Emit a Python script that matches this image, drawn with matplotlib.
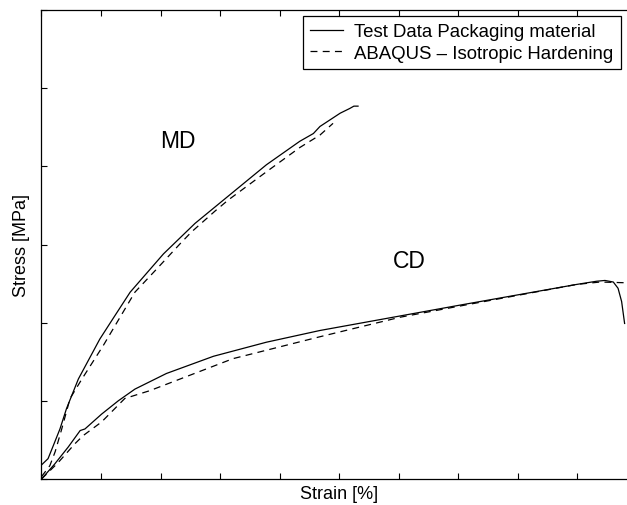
import matplotlib.pyplot as plt

plt.rcParams['font.family'] = ['Liberation Sans', 'DejaVu Sans']
plt.rcParams['lines.scale_dashes'] = False

# MD direction: test data and ABAQUS isotropic hardening model
md_test_strain = [0.0, 0.11, 0.20, 0.31, 0.42, 0.62, 0.98, 1.20, 1.49, 2.05, 2.58,
                  3.06, 3.78, 4.34, 4.57, 4.68, 5.02, 5.18, 5.25, 5.32]
md_test_stress = [0.18, 0.26, 0.43, 0.64, 0.90, 1.28, 1.79, 2.05, 2.39, 2.88, 3.27,
                  3.57, 4.02, 4.32, 4.42, 4.51, 4.68, 4.74, 4.77, 4.77]
md_model_strain = [0.0, 0.14, 0.23, 0.34, 0.48, 0.68, 1.04, 1.57, 1.94, 2.33, 2.52,
                   2.92, 3.14, 3.78, 4.34, 4.68, 4.90]
md_model_stress = [0.03, 0.17, 0.35, 0.64, 1.03, 1.28, 1.71, 2.39, 2.69, 3.01, 3.16,
                   3.43, 3.57, 3.93, 4.24, 4.40, 4.55]

# CD direction
cd_test_strain = [0.0, 0.22, 0.45, 0.65, 0.73, 1.01, 1.29, 1.57, 2.10, 2.89, 3.78,
                  4.68, 7.00, 9.00, 9.33, 9.47, 9.61, 9.69, 9.75, 9.80]
cd_test_stress = [0.0, 0.19, 0.41, 0.62, 0.64, 0.83, 1.00, 1.15, 1.35, 1.57, 1.75,
                  1.90, 2.22, 2.49, 2.53, 2.54, 2.52, 2.44, 2.27, 1.99]
cd_model_strain = [0.0, 0.28, 0.56, 0.70, 1.01, 1.40, 1.82, 3.22, 4.68, 6.03, 6.87,
                   9.00, 9.39, 9.84, 10.0]
cd_model_stress = [0.0, 0.21, 0.45, 0.555, 0.73, 1.03, 1.13, 1.54, 1.82, 2.07, 2.19,
                   2.49, 2.52, 2.51, 2.51]

fig = plt.figure(figsize=(6.27, 5.06), dpi=100)
# right edge of the axes runs past the figure border
ax = fig.add_axes([41.5 / 627, 26 / 506, 595 / 627, 469 / 506])

lw = 0.9
dash = (0, (5, 3.8))
ax.plot(md_test_strain, md_test_stress, color='black', lw=lw,
        label='Test Data Packaging material')
ax.plot(md_model_strain, md_model_stress, color='black', lw=lw, linestyle=dash,
        label='ABAQUS \u2013 Isotropic Hardening')
ax.plot(cd_test_strain, cd_test_stress, color='black', lw=lw)
ax.plot(cd_model_strain, cd_model_stress, color='black', lw=lw, linestyle=dash)

ax.text(2.3, 4.33, 'MD', fontsize=16.5, ha='center', va='center')
ax.text(6.18, 2.8, 'CD', fontsize=16.5, ha='center', va='center')

ax.set_xlim(0, 10)
ax.set_ylim(0, 6)
ax.set_xticks(range(0, 11))
ax.set_yticks(range(0, 7))
ax.tick_params(direction='in', length=4.5, width=0.8, top=True, right=True,
               labelbottom=False, labelleft=False)
for s in ax.spines.values():
    s.set_linewidth(0.9)

ax.set_xlabel('Strain [%]', fontsize=13, labelpad=4)
ax.set_ylabel('Stress [MPa]', fontsize=13, labelpad=8)

leg = ax.legend(loc='upper left', bbox_to_anchor=(303 / 627, 1 - 17 / 506),
                bbox_transform=fig.transFigure, borderaxespad=0, fontsize=13.4,
                fancybox=False, framealpha=1, edgecolor='black',
                handlelength=1.75, handletextpad=0.6, borderpad=0.4,
                labelspacing=0.22)
leg.get_frame().set_linewidth(0.9)

fig.savefig('out.png', dpi=100)
